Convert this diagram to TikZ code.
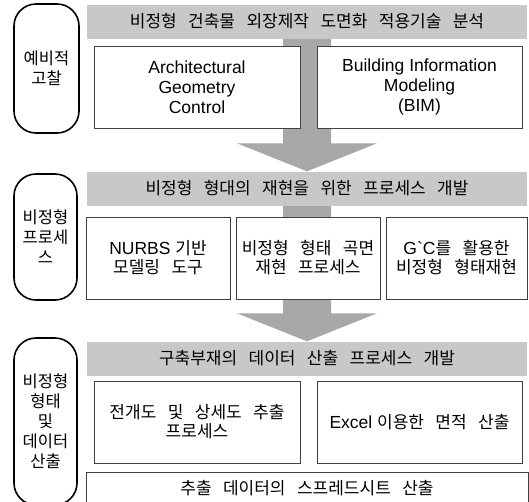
\documentclass[tikz,border=0pt]{standalone}
\usepackage{fontspec}
\setmainfont{Liberation Sans}
\newfontfamily\krfont{Noto Sans CJK KR}[WordSpace=3]
\usetikzlibrary{calc,backgrounds}
\definecolor{hdgray}{RGB}{200,200,200}
\definecolor{arrowgray}{RGB}{168,168,168}
\newcommand\lat[1]{{\rmfamily\fontsize{17.5}{19}\selectfont #1}}
% block arrow from one header down to the next
\newcommand\stagearrow[2]{%
  \fill[arrowgray] ($(#1.south)+(-24,0)$) -- ($(#2.north)+(-24,-28)$)
    -- ($(#2.north)+(-70,-28)$) -- (#2.north) -- ($(#2.north)+(70,-28)$)
    -- ($(#2.north)+(24,-28)$) -- ($(#1.south)+(24,0)$) -- cycle;}
\tikzset{
  stagebox/.style={draw, line width=1.6pt, rounded corners=22pt, align=center,
    inner sep=0pt, font=\krfont\fontsize{16.5}{20}\selectfont},
  headbar/.style={fill=hdgray, minimum width=440pt, minimum height=34pt,
    inner sep=0pt, font=\krfont\fontsize{17}{19}\selectfont},
  itembox/.style={draw=black!75, fill=white, line width=0.9pt, align=center,
    inner sep=0pt, minimum height=82pt, font=\krfont\fontsize{17}{19}\selectfont},
}
\begin{document}
\begin{tikzpicture}[x=1pt, y=-1pt]
  \useasboundingbox (0,0) rectangle (529,501);
  \clip (0,0) rectangle (529,501);
  % stage 1
  \node[stagebox, minimum width=65pt, minimum height=129pt] (pre) at (46.5,68.5) {예비적\\고찰};
  \node[headbar] (hd1) at (307,21.5) {비정형 건축물 외장제작 도면화 적용기술 분석};
  \node[itembox, minimum width=206pt, font=\fontsize{17.5}{20}\selectfont] (agc) at (197,87)
    {Architectural\\Geometry\\Control};
  \node[itembox, minimum width=205pt, font=\fontsize{17.5}{20}\selectfont] (bim) at (419.5,87)
    {Building Information\\Modeling\\(BIM)};
  % stage 2
  \node[stagebox, minimum width=63pt, minimum height=126pt] (proc) at (45.5,237) {비정형\\프로세\\스};
  \node[headbar] (hd2) at (307,188.5) {비정형 형대의 재현을 위한 프로세스 개발};
  \node[itembox, minimum width=144pt] (nurbs) at (158,258) {\lat{NURBS }기반\\모델링 도구};
  \node[itembox, minimum width=144pt] (surf) at (308,258) {비정형 형태 곡면\\재현 프로세스};
  \node[itembox, minimum width=141pt] (gc) at (456.5,258) {\lat{G\textasciigrave C}를 활용한\\비정형 형태재현};
  % stage 3
  \node[stagebox, minimum width=63pt, minimum height=167pt] (data) at (45.5,421.5)
    {비정형\\형태\\및\\데이터\\산출};
  \node[headbar] (hd3) at (307,358.5) {구축부재의 데이터 산출 프로세스 개발};
  \node[itembox, minimum width=206pt] (unf) at (197,422) {전개도 및 상세도 추출\\프로세스};
  \node[itembox, minimum width=205pt] (excel) at (419.5,422) {\lat{Excel }이용한 면적 산출};
  \node[itembox, minimum width=442pt, minimum height=32pt] (sheet) at (307,488)
    {추출 데이터의 스프레드시트 산출};
  \begin{scope}[on background layer]
    \stagearrow{hd1}{hd2}
    \stagearrow{hd2}{hd3}
  \end{scope}
\end{tikzpicture}
\end{document}
